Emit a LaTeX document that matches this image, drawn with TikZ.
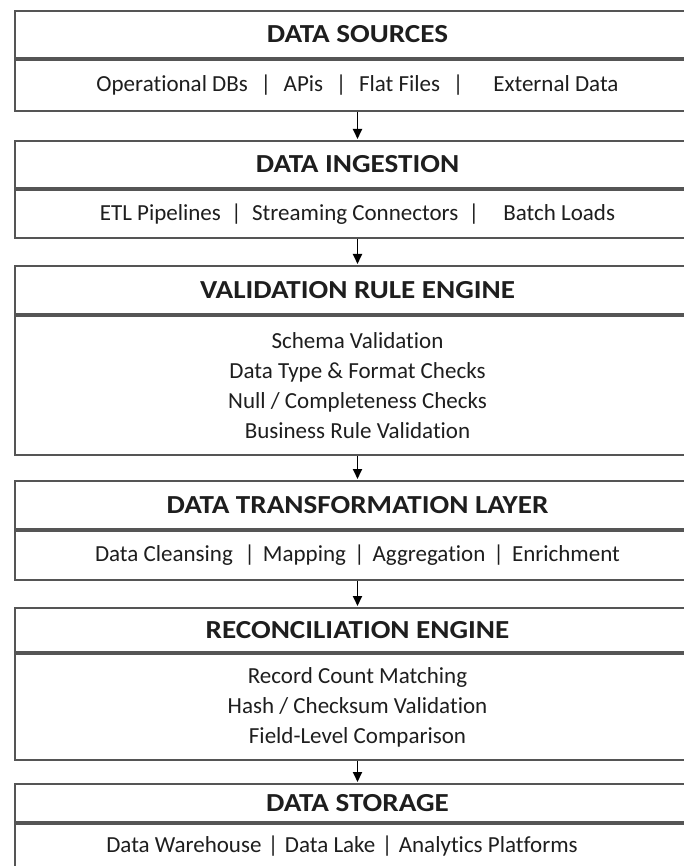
\documentclass[tikz,border=0pt]{standalone}
\usepackage{fontspec}
\setmainfont[RawFeature={-liga;-clig;-calt;-dlig;-rlig}]{Carlito}
\newfontfamily\hdrfont[FakeStretch=1.12,RawFeature={-liga;-clig;-calt;-dlig;-rlig}]{Carlito Bold}
\usetikzlibrary{arrows.meta}
\definecolor{boxgray}{HTML}{555555}
\definecolor{ink}{HTML}{1E1E1E}
\tikzset{
  x=1pt, y=-1pt,
  panel/.style={draw=boxgray, line width=2pt, minimum width=685pt,
    inner sep=0pt, anchor=north, text=ink, align=center},
  hdr/.style={panel, font=\hdrfont\fontsize{26}{30}\selectfont},
  bdy/.style={panel, font=\fontsize{23}{30}\selectfont},
  flow/.style={line width=1.8pt, draw=black,
    -{Triangle[length=10pt,width=9pt]}, shorten >=1pt}
}
\newcommand{\sep}[1][0.35em]{\hspace{#1}|\hspace{#1}}
\begin{document}
\begin{tikzpicture}
\useasboundingbox (0,0) rectangle (683,866);
\fill[white] (0,0) rectangle (683,866);

% 1: sources
\node[hdr, minimum height=47pt] (h1) at (357.5,10) {DATA SOURCES};
\node[bdy, minimum height=51pt] (b1) at (h1.south) {Operational DBs\sep[0.55em]APis\sep[0.55em]Flat Files\sep[0.55em]\hspace{0.75em}External Data};

% 2: ingestion
\node[hdr, minimum height=47pt] (h2) at (357.5,140) {DATA INGESTION};
\node[bdy, minimum height=48pt] (b2) at (h2.south) {ETL Pipelines\sep[0.45em]Streaming Connectors\sep[0.45em]\hspace{0.6em}Batch Loads};

% 3: validation
\node[hdr, minimum height=48pt] (h3) at (357.5,265) {VALIDATION RULE ENGINE};
\node[bdy, minimum height=139pt] (b3) at (h3.south) {Schema Validation\\Data Type \& Format Checks\\Null / Completeness Checks\\Business Rule Validation};

% 4: transformation
\node[hdr, minimum height=48pt] (h4) at (357.5,480) {DATA TRANSFORMATION LAYER};
\node[bdy, minimum height=49pt] (b4) at (h4.south) {Data Cleansing\hspace{0.15em}\sep Mapping\sep Aggregation\sep Enrichment};

% 5: reconciliation
\node[hdr, minimum height=44pt] (h5) at (357.5,607) {RECONCILIATION ENGINE};
\node[bdy, minimum height=106pt] (b5) at (h5.south) {Record Count Matching\\Hash / Checksum Validation\\Field-Level Comparison};

% 6: storage (runs past the lower edge)
\node[hdr, minimum height=38pt] (h6) at (357.5,783) {DATA STORAGE};
\node[bdy, minimum height=100pt] (b6) at (h6.south) {};
\node[font=\fontsize{23}{28}\selectfont, text=ink, inner sep=0pt] (t6) at (342,846) {Data Warehouse\sep[0.28em]Data Lake\sep[0.28em]Analytics Platforms};

% connectors
\draw[flow] (b1.south) -- (h2.north);
\draw[flow] (b2.south) -- (h3.north);
\draw[flow] (b3.south) -- (h4.north);
\draw[flow] (b4.south) -- (h5.north);
\draw[flow] (b5.south) -- (h6.north);
\end{tikzpicture}
\end{document}
